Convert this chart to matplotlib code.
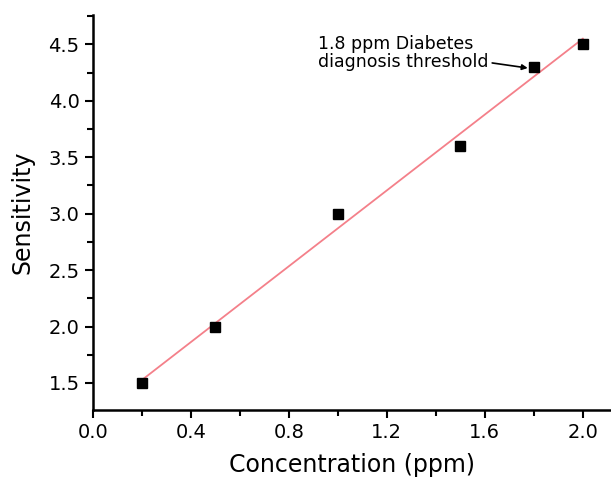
import numpy as np
import matplotlib
matplotlib.use("Agg")
import matplotlib.pyplot as plt
from matplotlib.ticker import MultipleLocator

concentration = [0.2, 0.5, 1.0, 1.5, 1.8, 2.0]
sensitivity = [1.5, 2.0, 3.0, 3.6, 4.3, 4.5]
xtick_labels = ["0.0", "0.4", "0.8", "1.2", "1.6", "2.0"]
ytick_labels = ["1.5", "2.0", "2.5", "3.0", "3.5", "4.0", "4.5"]

fig = plt.figure(figsize=(6.11, 4.83), dpi=100)
ax = fig.add_axes([0.152, 0.151, 0.848, 0.818])

slope, intercept = np.polyfit(concentration, sensitivity, 1)
xf = np.array([min(concentration), max(concentration)])
ax.plot(xf, slope * xf + intercept, color="#f4808a", lw=1.3, zorder=2)
ax.plot(concentration, sensitivity, "s", color="black", ms=7, zorder=3)

ax.set_xlim(0, 2.115)
ax.set_ylim(1.26, 4.76)
ax.xaxis.set_minor_locator(MultipleLocator(0.2))
ax.yaxis.set_minor_locator(MultipleLocator(0.25))
ax.set_xticks([float(t) for t in xtick_labels])
ax.set_xticklabels(xtick_labels)
ax.set_yticks([float(t) for t in ytick_labels])
ax.set_yticklabels(ytick_labels)

for s in ["top", "right"]:
    ax.spines[s].set_visible(False)
for s in ["left", "bottom"]:
    ax.spines[s].set_linewidth(1.8)
ax.tick_params(which="major", direction="out", length=6, width=1.5, labelsize=14)
ax.tick_params(which="minor", direction="out", length=4, width=1.5)

ax.set_xlabel("Concentration (ppm)", fontsize=17, labelpad=8)
ax.set_ylabel("Sensitivity", fontsize=17, labelpad=10)

ax.text(0.92, 4.42, "1.8 ppm Diabetes\ndiagnosis threshold", fontsize=12.5,
        ha="left", va="center", linespacing=1.0)
ax.annotate("", xy=(1.775, 4.29), xytext=(1.63, 4.335),
            arrowprops=dict(arrowstyle="-|>", color="black", lw=1.2,
                            shrinkA=0, shrinkB=0, mutation_scale=8))
fig.savefig("out.png", dpi=100)
